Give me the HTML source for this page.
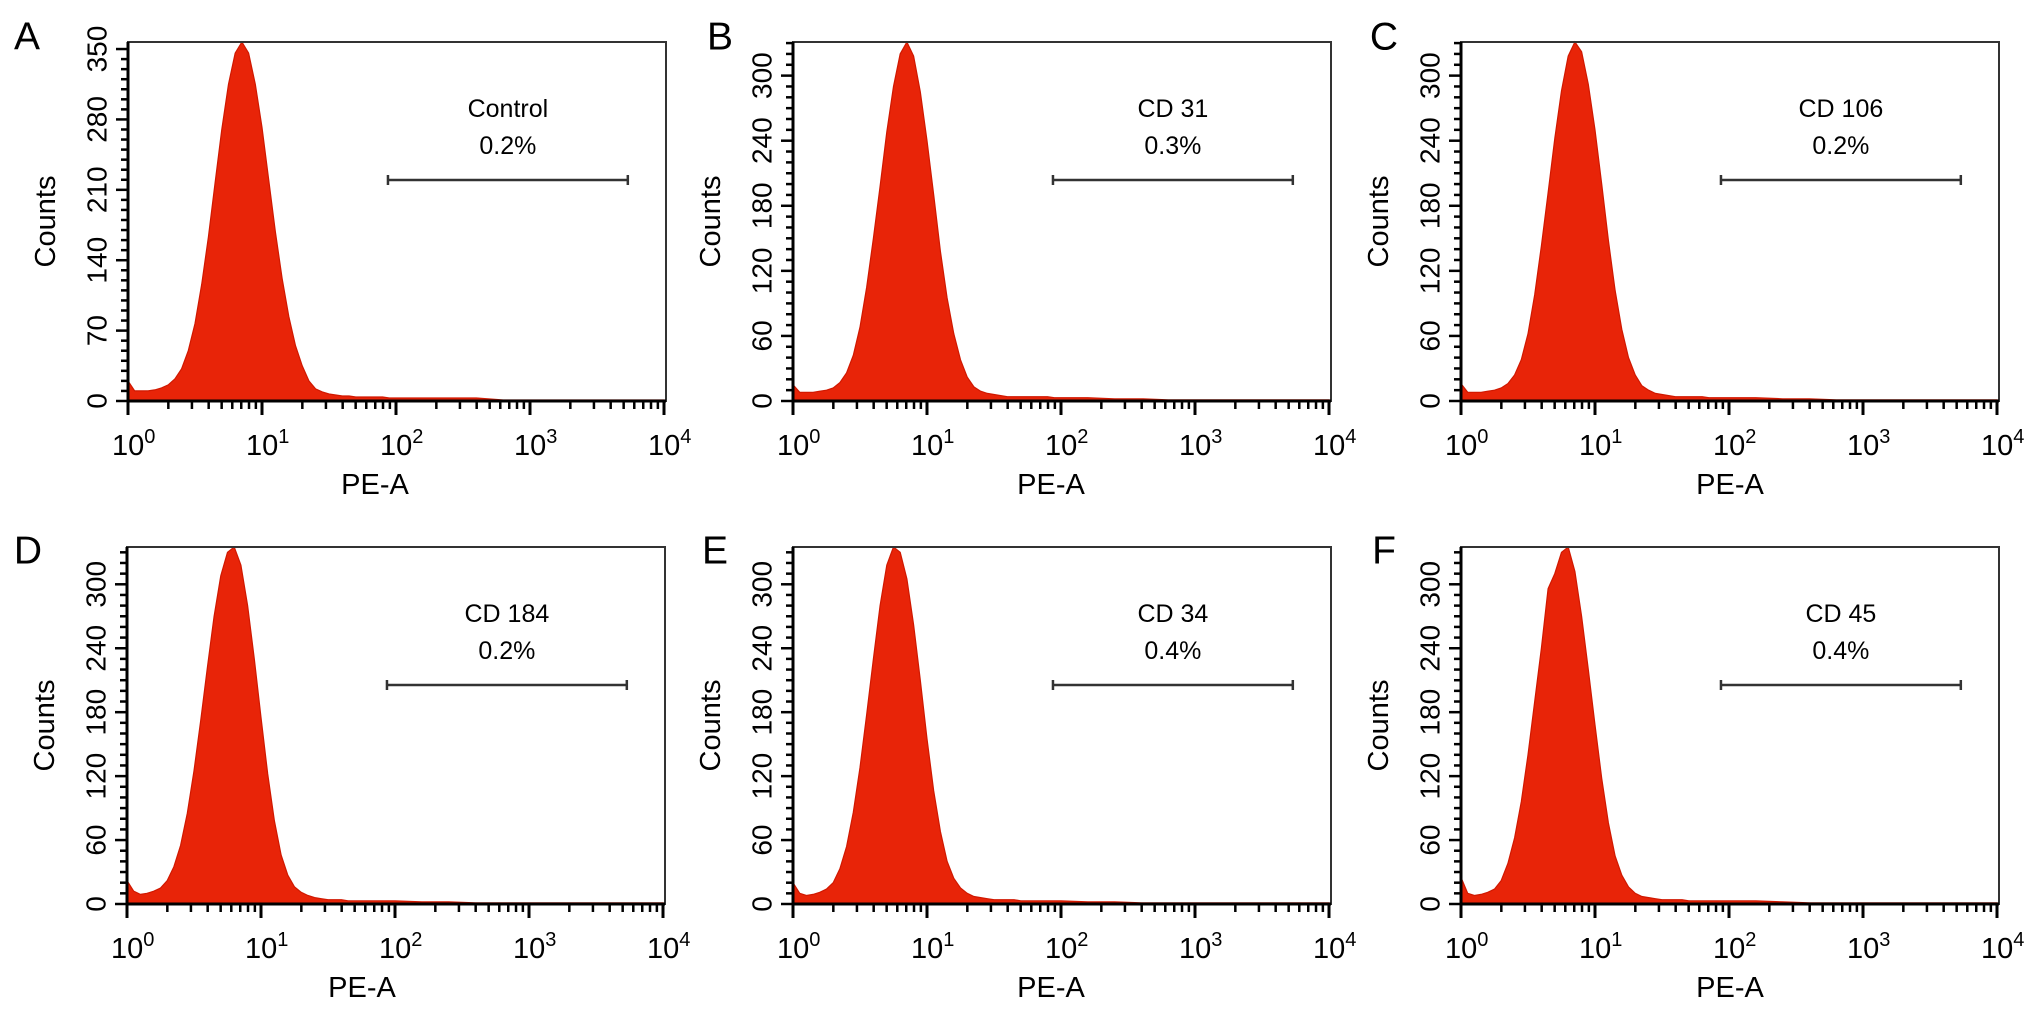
<!DOCTYPE html>
<html><head><meta charset="utf-8"><style>
html,body{margin:0;padding:0;background:#fff;}
svg{display:block;font-family:"Liberation Sans",Arial,sans-serif;}
</style></head><body>
<svg id="fig" width="2031" height="1015" viewBox="0 0 2031 1015" xmlns="http://www.w3.org/2000/svg"></svg>
<script>
// Shared channel positions (log10 of PE-A)
const logX = [0,0.05,0.1,0.15,0.2,0.25,0.3,0.35,0.4,0.45,0.5,0.55,0.6,0.65,0.7,0.75,0.8,0.85,0.9,0.95,1.0,1.05,1.1,1.15,1.2,1.25,1.3,1.35,1.4,1.45,1.5,1.55,1.6,1.65,1.7,1.75,1.8,1.85,1.9,1.95,2.0,2.2,2.4,2.6,2.8,3.0,3.2,3.4,3.6,3.8,4.0];
// Counts per panel
const countsA = [20,10,10,10,11,13,16,22,32,50,77,116,163,217,270,315,346,357,346,315,272,220,168,122,84,55,35,20,12,9,7,6,5,5,4,4,4,4,4,3,3,3,3,3,1,1,1,1,1,1,1];
const countsB = [15,8,8,8,9,10,12,17,26,42,68,105,150,198,248,290,320,331,318,285,240,190,138,95,62,38,22,13,9,7,6,5,4,4,4,4,4,4,4,3,3,3,2,2,1,1,1,1,1,1,1];
const countsC = [16,8,8,8,9,10,12,16,24,38,62,98,143,192,242,286,318,331,322,292,250,200,148,102,66,40,24,14,10,7,6,5,4,4,4,4,4,3,3,3,3,3,2,2,1,1,1,1,1,1,1];
const countsD = [22,12,9,10,12,15,22,35,55,85,125,172,222,270,308,330,335,318,280,230,175,122,78,46,27,16,11,8,6,5,4,4,4,3,3,3,3,3,3,3,3,2,2,1,1,1,1,1,1,1,1];
const countsE = [20,10,8,9,11,14,20,33,54,86,128,178,230,280,318,335,330,305,262,210,155,106,68,40,24,15,10,7,6,5,4,4,4,4,3,3,3,3,3,3,3,2,2,1,1,1,1,1,1,1,1];
const countsF = [25,10,8,9,11,14,22,38,62,96,140,190,240,296,310,330,335,312,270,220,168,118,76,45,27,16,10,7,6,5,4,4,4,4,3,3,3,3,3,3,3,3,2,1,1,1,1,1,1,1,1];
const panelLetters = ["A","B","C","D","E","F"];
const markerNames = ["Control","CD 31","CD 106","CD 184","CD 34","CD 45"];
const percentLabels = ["0.2%","0.3%","0.2%","0.2%","0.4%","0.4%"];
const yMaxes = [357,331,331,335,335,335];
const yStepMajor = [70,60,60,60,60,60];
const xTickExps = [0,1,2,3,4];
const gateLog = [1.94,3.73];

const panels = [
 {x0:128, top:42, base:401, letterX:27, letterY:37, peX:247, counts:countsA},
 {x0:793, top:42, base:401, letterX:720, letterY:37, peX:258, counts:countsB},
 {x0:1461,top:42, base:401, letterX:1384,letterY:37, peX:269, counts:countsC},
 {x0:127, top:547,base:904, letterX:28, letterY:551,peX:235, counts:countsD},
 {x0:793, top:547,base:904, letterX:715,letterY:551,peX:258, counts:countsE},
 {x0:1461,top:547,base:904, letterX:1384,letterY:551,peX:269, counts:countsF}
];
const DEC = 134;
const NS = "http://www.w3.org/2000/svg";
const svg = document.getElementById('fig');
function mk(tag, attrs, parent){const e=document.createElementNS(NS,tag);for(const k in attrs)e.setAttribute(k,attrs[k]);(parent||svg).appendChild(e);return e;}

panels.forEach((p,i)=>{
  const g = mk('g',{});
  
  
  const xs = v => p.x0 + v*DEC;
  const ys = c => p.base - c*(p.base-p.top)/yMaxes[i];
  const right = p.x0 + 4*DEC + 2;
  let d = 'M'+xs(logX[0])+','+p.base;
  for(let k=0;k<logX.length;k++){d+=' L'+xs(logX[k]).toFixed(1)+','+ys(p.counts[k]).toFixed(1);}
  d += ' L'+xs(4)+','+p.base+' Z';
  const hist = mk('path',{d:d,fill:'#e82408',stroke:'#d01800','stroke-width':1.2},g);
  
  
  const fr = mk('rect',{x:p.x0,y:p.top,width:right-p.x0,height:p.base-p.top,fill:'none',stroke:'#333','stroke-width':2},g);
  
  
  mk('line',{x1:p.x0,y1:p.top,x2:p.x0,y2:p.base+1,stroke:'#000','stroke-width':3},g);
  mk('line',{x1:p.x0,y1:p.base,x2:right,y2:p.base,stroke:'#000','stroke-width':3},g);
  for(let c=0;c<=yMaxes[i];c+=10){
    const major = (c % yStepMajor[i])===0;
    mk('line',{x1:p.x0-(major?12:7),y1:ys(c),x2:p.x0,y2:ys(c),stroke:'#000','stroke-width':2.5},g);
    if(major){
      const t = mk('text',{x:0,y:0,'font-size':28,'text-anchor':'middle','dominant-baseline':'central',transform:'translate('+(p.x0-31)+','+ys(c)+') rotate(-90)'},g);
      t.textContent = c;
      
      
    }
  }
  for(let e=0;e<4;e++){
    for(let m=2;m<=9;m++){
      const xx = xs(e+Math.log10(m));
      mk('line',{x1:xx,y1:p.base,x2:xx,y2:p.base+8,stroke:'#000','stroke-width':2.5},g);
    }
  }
  xTickExps.forEach(e=>{
    const xx = xs(e);
    mk('line',{x1:xx,y1:p.base,x2:xx,y2:p.base+14,stroke:'#000','stroke-width':3},g);
    const t = mk('text',{x:xx-16,y:p.base+54,'font-size':29},g);
    
    
    t.appendChild(document.createTextNode('10'));
    const s = mk('tspan',{dy:-12,'font-size':20},t);
    s.textContent = e;
  });
  const xt = mk('text',{x:p.x0+p.peX,y:p.base+93,'font-size':29,'text-anchor':'middle'},g);
  xt.textContent='PE-A';
  
  
  const yt = mk('text',{x:0,y:0,'font-size':29,'text-anchor':'middle','dominant-baseline':'central',transform:'translate('+(p.x0-82)+','+((p.top+p.base)/2)+') rotate(-90)'},g);
  yt.textContent='Counts';
  
  
  const pl = mk('text',{x:p.letterX,y:p.letterY,'font-size':39,'text-anchor':'middle','dominant-baseline':'central'},g);
  pl.textContent = panelLetters[i];
  
  
  const gx1 = xs(gateLog[0]), gx2 = xs(gateLog[1]), gy = p.top+138;
  const gate = mk('g',{},g);
  
  
  mk('line',{x1:gx1,y1:gy,x2:gx2,y2:gy,stroke:'#333','stroke-width':2.5},gate);
  mk('line',{x1:gx1,y1:gy-5,x2:gx1,y2:gy+5,stroke:'#333','stroke-width':2.5},gate);
  mk('line',{x1:gx2,y1:gy-5,x2:gx2,y2:gy+5,stroke:'#333','stroke-width':2.5},gate);
  const cx = (gx1+gx2)/2;
  const l1 = mk('text',{x:cx,y:p.top+67,'font-size':25,'text-anchor':'middle','dominant-baseline':'central'},g);
  l1.textContent = markerNames[i];
  
  
  const l2 = mk('text',{x:cx,y:p.top+104,'font-size':25,'text-anchor':'middle','dominant-baseline':'central'},g);
  l2.textContent = percentLabels[i];
  
  
});
</script>
</body></html>
